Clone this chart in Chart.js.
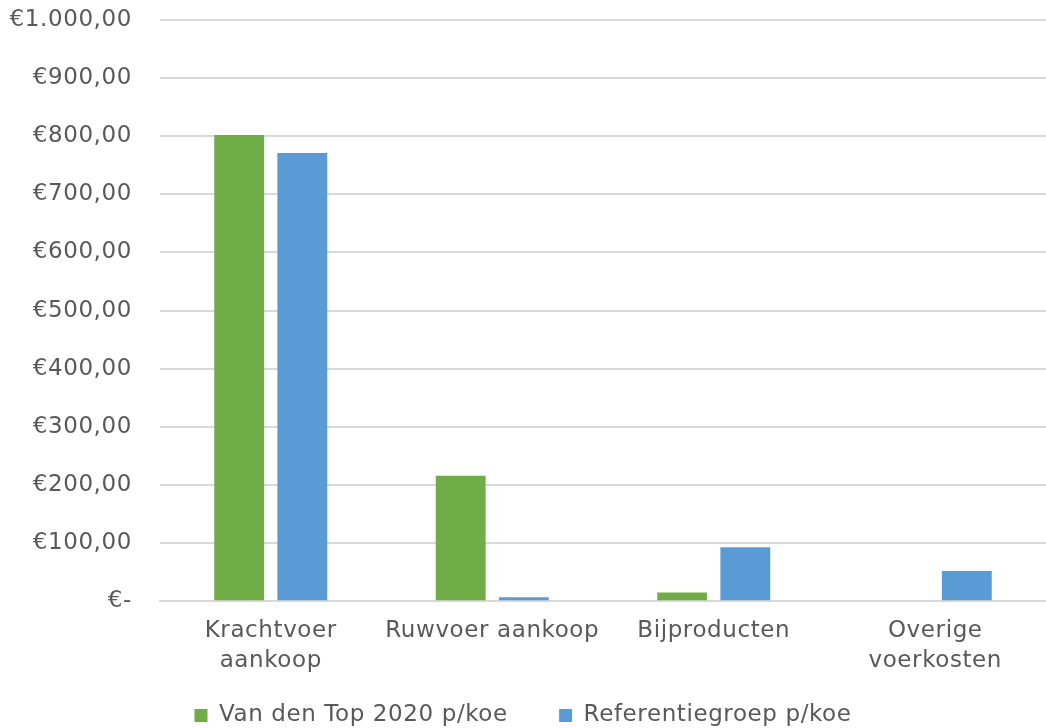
<!DOCTYPE html>
<html>
<head>
<meta charset="utf-8">
<script src="https://cdn.jsdelivr.net/npm/chart.js@4/dist/chart.umd.min.js"></script>
<style>
  html, body { margin: 0; padding: 0; background: #fff; }
  #wrap { width: 1046px; height: 728px; }
</style>
</head>
<body>
<div id="wrap"><canvas id="chart"></canvas></div>
<script>
const categories = [['Krachtvoer', 'aankoop'], 'Ruwvoer aankoop', 'Bijproducten', ['Overige', 'voerkosten']];
const vanDenTop = [802, 216, 15, 0];
const referentie = [771, 7, 93, 52];
const seriesNames = ['Van den Top 2020 p/koe', 'Referentiegroep p/koe'];

const fontFamily = "'DejaVu Sans', sans-serif";
const textColor = '#595959';

function euro(v) {
  if (v === 0) return '€-';
  return '€' + v.toLocaleString('nl-NL', { minimumFractionDigits: 2, maximumFractionDigits: 2 });
}

// slightly wider lettering, closer to the original font
// (canvas resize resets the context, so set it again before layout and draw)
const spacing = {
  id: 'spacing',
  beforeLayout(chart) { chart.ctx.letterSpacing = '0.6px'; },
  beforeDraw(chart) { chart.ctx.letterSpacing = '0.6px'; }
};

new Chart(document.getElementById('chart'), {
  type: 'bar',
  data: {
    labels: categories,
    datasets: [
      { label: seriesNames[0], data: vanDenTop, backgroundColor: '#70AD47' },
      { label: seriesNames[1], data: referentie, backgroundColor: '#5B9BD5' }
    ]
  },
  plugins: [spacing],
  options: {
    responsive: true,
    maintainAspectRatio: false,
    animation: false,
    categoryPercentage: 0.57,
    barPercentage: 0.79,
    layout: { padding: { top: 20, right: 0, left: 0, bottom: -9 } },
    plugins: {
      tooltip: { enabled: false },
      legend: {
        position: 'bottom',
        labels: {
          font: { family: fontFamily, size: 23 },
          color: textColor,
          boxWidth: 13,
          boxHeight: 13,
          padding: 15,
          generateLabels(chart) {
            const items = Chart.defaults.plugins.legend.labels.generateLabels(chart);
            // wider gap between the two entries
            items[0].text = items[0].text + '\u2002\u2002\u2002';
            return items;
          }
        }
      }
    },
    scales: {
      x: {
        afterFit: (s) => { s.height += 6; },
        grid: { display: false },
        border: { color: '#d9d9d9', width: 2 },
        ticks: {
          font: { family: fontFamily, size: 23, lineHeight: 1.3 },
          color: textColor,
          maxRotation: 0,
          padding: 7
        }
      },
      y: {
        min: 0,
        max: 1000,
        afterFit: (s) => { s.width = 160; },
        grid: { color: '#d9d9d9', lineWidth: 2, tickLength: 28, tickColor: 'rgba(0,0,0,0)' },
        border: { display: false },
        ticks: {
          stepSize: 100,
          font: { family: fontFamily, size: 23 },
          color: textColor,
          padding: 0,
          callback: (v) => euro(v)
        }
      }
    }
  }
});
</script>
</body>
</html>
